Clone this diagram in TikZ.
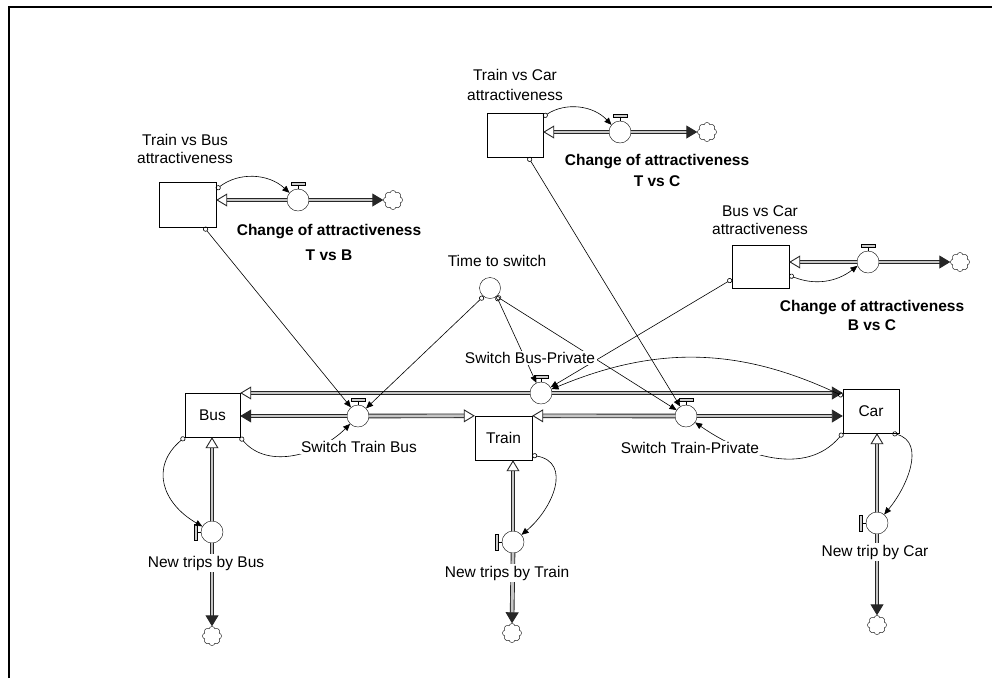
\documentclass[tikz,border=0pt]{standalone}
\usepackage{fontspec}
\setmainfont{Liberation Sans}
\usetikzlibrary{arrows.meta,shapes.symbols}

\begin{document}
\begin{tikzpicture}[x=1pt,y=1pt,
  every node/.style={font=\fontsize{15.5}{18}\selectfont},
  stock/.style={draw, rectangle, minimum width=56, minimum height=44, inner sep=0},
  valve/.style={draw, circle, minimum size=22, inner sep=0, fill=white},
  aux/.style={draw, circle, minimum size=21, inner sep=0},
  sink/.style={draw, cloud, cloud puffs=8, cloud puff arc=150, aspect=1, minimum size=19, inner sep=0},
  tag/.style={fill=white, inner sep=1.5pt},
  ratelabel/.style={font=\fontsize{15.5}{18}\selectfont\bfseries, align=center},
  pipe/.style={draw=black!85, double=gray!45, double distance=2.8pt, line width=0.9pt},
  link/.style={draw, line width=0.6pt, {Circle[open,length=5pt,width=5pt]}-{Triangle[length=7pt,width=6pt]}}
]
\useasboundingbox (0,0) rectangle (992,-678);
\path[draw, line width=2pt] (9,-678) -- (9,-7) -- (993,-7);

% stocks
\node[stock, minimum width=57, minimum height=45] (tvb) at (187.5,-204.5) {};
\node[stock] (tvc) at (515,-135) {};
\node[stock, minimum width=57, minimum height=43] (bvc) at (760.5,-266.5) {};
\node[stock, minimum width=55] (bus) at (212.5,-415) {Bus};
\node[stock, minimum width=57] (train) at (503.5,-438) {Train};
\node[stock] (car) at (871,-411) {Car};

% valves, auxiliary, clouds
\node[valve] (ctb) at (298,-200) {};
\node[valve] (ctc) at (620,-132) {};
\node[valve] (cbc) at (868,-262) {};
\node[valve] (sbp) at (541,-393) {};
\node[valve] (stb) at (358,-416) {};
\node[valve] (stp) at (686,-416) {};
\node[valve] (ntb) at (212,-532) {};
\node[valve] (ntt) at (513,-542) {};
\node[valve] (ntc) at (877,-523) {};
\node[aux] (tts) at (490,-288) {};
\node[sink] (s1) at (393,-200) {};
\node[sink] (s2) at (707,-132) {};
\node[sink] (s3) at (960,-262) {};
\node[sink] (s4) at (212,-636) {};
\node[sink] (s5) at (512,-633) {};
\node[sink] (s6) at (877,-625) {};

% flows
\path[pipe, {Triangle[open,length=11pt,width=13pt]}-] (tvb.east |- ctb) -- (ctb.west);
\path[pipe, -{Triangle[length=11pt,width=13pt]}] (ctb.east) -- (s1.west);
\path[pipe, {Triangle[open,length=11pt,width=13pt]}-] (tvc.east |- ctc) -- (ctc.west);
\path[pipe, -{Triangle[length=11pt,width=13pt]}] (ctc.east) -- (s2.west);
\path[pipe, {Triangle[open,length=11pt,width=13pt]}-] (bvc.east |- cbc) -- (cbc.west);
\path[pipe, -{Triangle[length=11pt,width=13pt]}] (cbc.east) -- (s3.west);
\path[pipe, {Triangle[open,length=11pt,width=13pt]}-] (bus.east |- sbp) -- (sbp.west);
\path[pipe, -{Triangle[length=11pt,width=13pt]}] (sbp.east) -- (car.west |- sbp);
\path[pipe, -{Triangle[length=11pt,width=13pt]}] (stb.west) -- (bus.east |- stb);
\path[pipe, -{Triangle[open,length=11pt,width=13pt]}] (stb.east) -- (train.north west);
\path[pipe, {Triangle[open,length=11pt,width=13pt]}-] (train.north east) -- (stp.west);
\path[pipe, -{Triangle[length=11pt,width=13pt]}] (stp.east) -- (car.west |- stp);
\path[pipe, {Triangle[open,length=11pt,width=13pt]}-] (ntb.north |- bus.south) -- (ntb.north);
\path[pipe, -{Triangle[length=11pt,width=13pt]}] (ntb.south) -- (s4.north);
\path[pipe, {Triangle[open,length=11pt,width=13pt]}-] (ntt.north |- train.south) -- (ntt.north);
\path[pipe, -{Triangle[length=11pt,width=13pt]}] (ntt.south) -- (s5.north);
\path[pipe, {Triangle[open,length=11pt,width=13pt]}-] (ntc.north |- car.south) -- (ntc.north);
\path[pipe, -{Triangle[length=11pt,width=13pt]}] (ntc.south) -- (s6.north);

% valve handles
\foreach \v in {ctb,ctc,cbc,sbp,stb,stp} {
  \path[draw] (\v.north) -- ++(0,4);
  \path[draw, fill=gray!40] ([xshift=-7]\v.north) ++(0,4) rectangle ++(14,3);
}
\foreach \v in {ntb,ntt,ntc} {
  \path[draw] (\v.west) -- ++(-4,0);
  \path[draw, fill=gray!40] ([yshift=-8]\v.west) ++(-4,0) rectangle ++(-3,16);
}

% connectors
\path[link] (tvb.28) to[bend left=40] (ctb.140);
\path[link] (tvc.33) to[bend left=40] (ctc.140);
\path[link] (bvc.-17) to[bend right=30] (cbc.200);
\path[link] (tvb.-54) -- (stb);
\path[link] (tvc.-59) -- (stp);
\path[link] (bvc.204) -- (sbp);
\path[link] (tts.232) -- (stb);
\path[link] (tts.-52) -- (sbp);
\path[link] (tts.-52) -- (stp);
\path[link] (car.152) to[bend right=24] (sbp.20);
\path[link] (bus.south east) to[out=-50, in=225] (stb.225);
\path[link] (car.south west) to[out=230, in=-35] (stp.-35);
\path[link] (bus.south west) to[out=220, in=150, looseness=1.3] (ntb.150);
\path[link] (train.-31) to[out=-10, in=40, looseness=1.3] (ntt.40);
\path[link] (car.-46) to[out=-15, in=50, looseness=1.1] (ntc.50);

% labels
\node[align=center] (tvbname) at (185,-149) {Train vs Bus\\attractiveness};
\node[align=center] (tvcname) at (515,-85) {Train vs Car\\[2pt]attractiveness};
\node[align=center] (bvcname) at (760,-220) {Bus vs Car\\attractiveness};
\node[ratelabel] (ctbname) at (329,-242) {Change of attractiveness\\[7pt]T vs B};
\node[ratelabel] (ctcname) at (657,-170) {Change of attractiveness\\[3pt]T vs C};
\node[ratelabel] (cbcname) at (872,-315) {Change of attractiveness\\[1pt]B vs C};
\node (ttsname) at (497,-261) {Time to switch};
\node[tag] (sbpname) at (530,-358) {Switch Bus-Private};
\node[tag] (stbname) at (359,-447) {Switch Train Bus};
\node[tag] (stpname) at (690,-448) {Switch Train-Private};
\node[tag] (ntbname) at (206,-563) {New trips by Bus};
\node[tag] (nttname) at (507,-573) {New trips by Train};
\node[tag] (ntcname) at (875,-552) {New trip by Car};
\end{tikzpicture}
\end{document}
